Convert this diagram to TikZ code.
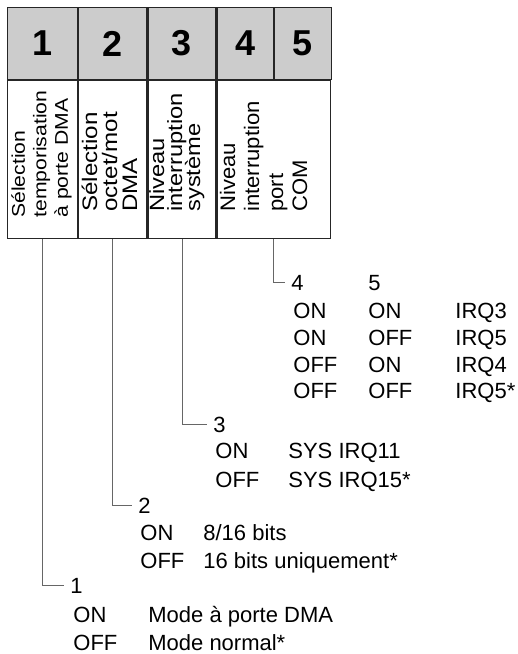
\documentclass[tikz,border=0pt]{standalone}
\usepackage{fontspec}
\setmainfont{Liberation Sans}
\newfontfamily\vlabfont[FakeStretch=1.15]{Liberation Sans}
\newfontfamily\vlabfontcom[FakeStretch=1.05]{Liberation Sans}
\usetikzlibrary{positioning}
\definecolor{hdrgray}{HTML}{CCCCCC}
\newcommand{\vlabsize}[2]{\fontsize{#1}{#2}\selectfont\lineskiplimit=-10pt}
\tikzset{
  hcell/.style={draw=black!85, fill=hdrgray, line width=0.6pt, anchor=north west,
    minimum height=36pt, inner sep=0pt, font=\fontsize{18}{18}\selectfont\bfseries},
  bcell/.style={draw=black!85, fill=white, line width=0.6pt, anchor=north west,
    minimum height=79pt, inner sep=0pt},
  vlab/.style={rotate=90, anchor=base west, align=left, inner sep=0pt},
  num/.style={anchor=base west, inner xsep=3pt, inner ysep=0pt},
  txt/.style={anchor=base west, inner sep=0pt},
  conn/.style={draw=black!60, line width=0.5pt},
}

\begin{document}
\begin{tikzpicture}[x=0.5pt, y=-0.5pt, font=\fontsize{11}{13}\selectfont]
    \fill[white] (0,0) rectangle (518,654);
    \useasboundingbox (0,0) rectangle (518,654);
    % header
    \node[hcell, minimum width=35pt] (h1) at (7,7) {1};
    \node[hcell, minimum width=34pt] (h2) at (h1.north east) {2};
    \node[hcell, minimum width=34pt] (h3) at (h2.north east) {3};
    \node[hcell, minimum width=28pt] (h4) at (h3.north east) {4};
    \node[hcell, minimum width=28.5pt] (h5) at (h4.north east) {5};
    % body
    \node[bcell, minimum width=35pt] (b1) at (h1.south west) {};
    \node[bcell, minimum width=34pt] (b2) at (h2.south west) {};
    \node[bcell, minimum width=34pt] (b3) at (h3.south west) {};
    \node[bcell, minimum width=56.5pt] (b45) at (h4.south west) {};
    % (base = last line)
    \node[vlab, font=\vlabfont\vlabsize{9.2}{10.75}] (t1) at (68,218)
      {Sélection\\temporisation\\à porte DMA};
    \node[vlab, font=\vlabfont\vlabsize{10.5}{10}] (t2) at (137,212)
      {Sélection\\octet/mot\\DMA};
    \node[vlab, font=\vlabfont\vlabsize{10.3}{9}] (t3) at (200,212)
      {Niveau\\interruption\\système};
    \node[vlab, font=\vlabfontcom\vlabsize{10.5}{12}] (t45) at (307,212)
      {Niveau\\interruption\\port\\COM};
    % switches 4 and 5
    \node[num] (n4) at (285,290) {4};
    \node[txt] (n5) at (368,290) {5};
    \node[txt] (s4a) at (293,318) {ON};
    \node[txt] (s5a) at (368,318) {ON};
    \node[txt] (qa) at (455,318) {IRQ3};
    \node[txt] (s4b) at (293,345) {ON};
    \node[txt] (s5b) at (368,345) {OFF};
    \node[txt] (qb) at (455,345) {IRQ5};
    \node[txt] (s4c) at (293,372) {OFF};
    \node[txt] (s5c) at (368,372) {ON};
    \node[txt] (qc) at (455,372) {IRQ4};
    \node[txt] (s4d) at (293,398) {OFF};
    \node[txt] (s5d) at (368,398) {OFF};
    \node[txt] (qd) at (455,398) {IRQ5*};
    % switch 3
    \node[num] (n3) at (207,432) {3};
    \node[txt] (s3a) at (215,458) {ON};
    \node[txt] (ra) at (288,458) {SYS IRQ11};
    \node[txt] (s3b) at (215,487) {OFF};
    \node[txt] (rb) at (288,487) {SYS IRQ15*};
    % switch 2
    \node[num] (n2) at (132,513) {2};
    \node[txt] (s2a) at (140,540) {ON};
    \node[txt] (wa) at (203,540) {8/16 bits};
    \node[txt] (s2b) at (140,568) {OFF};
    \node[txt] (wb) at (203,568) {16 bits uniquement*};
    % switch 1
    \node[num] (n1) at (64,593) {1};
    \node[txt] (s1a) at (73,622) {ON};
    \node[txt] (ma) at (148,622) {Mode à porte DMA};
    \node[txt] (s1b) at (73,650) {OFF};
    \node[txt] (mb) at (148,650) {Mode normal*};
    % leaders
    \draw[conn] (b1.south) |- (n1.west);
    \draw[conn] (b2.south) |- (n2.west);
    \draw[conn] (b3.south) |- (n3.west);
    \draw[conn] (h5.west |- b45.south) |- (n4.west);
\end{tikzpicture}
\end{document}
